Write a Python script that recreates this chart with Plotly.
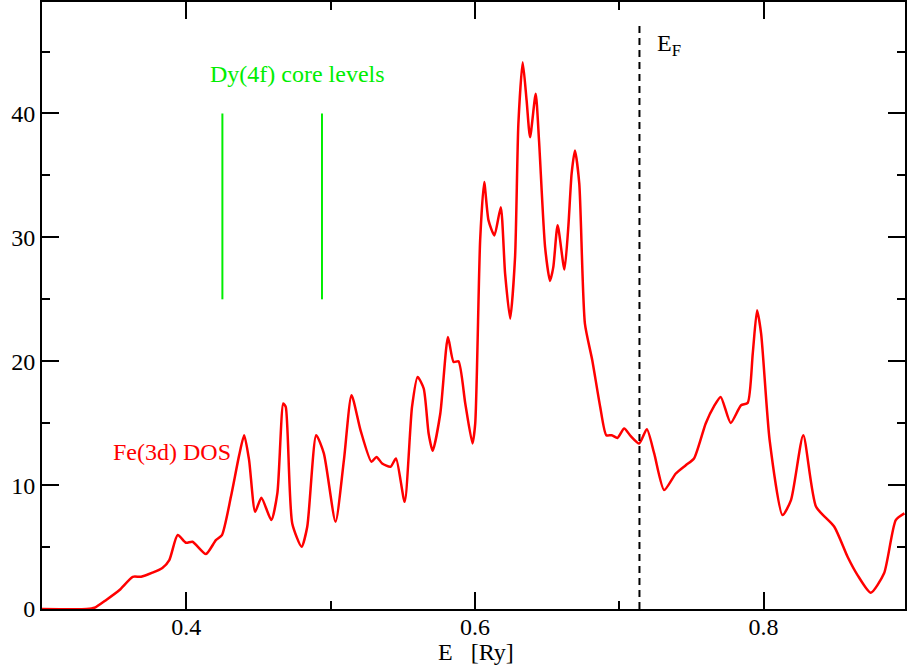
import plotly.graph_objects as go

energy = [0.300, 0.3309, 0.3364, 0.3445, 0.3537, 0.3629, 0.3687, 0.3765, 0.3834, 0.3882,
          0.3940, 0.3998, 0.4043, 0.4136, 0.4205, 0.4247, 0.4309, 0.4366, 0.4401, 0.4435,
          0.4477, 0.4520, 0.4589, 0.4631, 0.4672, 0.4689, 0.4734, 0.4799, 0.4838, 0.4900,
          0.4953, 0.5034, 0.5092, 0.5145, 0.5207, 0.5283, 0.5318, 0.5357, 0.5415, 0.5453,
          0.5513, 0.5564, 0.5603, 0.5645, 0.5679, 0.5707, 0.5760, 0.5813, 0.5852, 0.5886,
          0.5933, 0.5983, 0.6002, 0.6036, 0.6064, 0.6094, 0.6135, 0.6179, 0.6209, 0.6244,
          0.6278, 0.6301, 0.6331, 0.6358, 0.6382, 0.6421, 0.6444, 0.6486, 0.6520, 0.6543,
          0.6573, 0.6620, 0.6647, 0.6670, 0.6693, 0.6723, 0.6762, 0.6813, 0.6868, 0.6910,
          0.6948, 0.6988, 0.7034, 0.7080, 0.7138, 0.7191, 0.7242, 0.7311, 0.7392, 0.7461,
          0.7518, 0.7599, 0.7657, 0.7703, 0.7772, 0.7844, 0.7890, 0.7925, 0.7955, 0.7983,
          0.8042, 0.8131, 0.8190, 0.8275, 0.8364, 0.8490, 0.8582, 0.8651, 0.8743, 0.8835,
          0.8916, 0.8976]
dos = [0.0, 0.0, 0.1, 0.73, 1.53, 2.60, 2.60, 2.93, 3.31, 3.95,
       5.97, 5.35, 5.43, 4.44, 5.56, 5.97, 9.06, 12.4, 14.03, 12.02,
       7.85, 8.98, 7.18, 9.35, 16.59, 16.31, 6.91, 5.02, 6.64, 14.03,
       12.56, 7.04, 12.02, 17.26, 14.44, 11.88, 12.28, 11.75, 11.48, 12.15,
       8.65, 16.31, 18.73, 17.80, 14.17, 12.77, 15.78, 21.96, 19.94, 20.0,
       16.59, 13.36, 14.98, 29.76, 34.46, 31.37, 30.16, 32.44, 27.07, 23.44,
       28.41, 39.17, 44.14, 41.05, 38.09, 41.59, 37.82, 29.22, 26.48, 27.60,
       30.97, 27.40, 30.83, 35.14, 37.02, 34.33, 23.04, 20.08, 16.31, 14.03,
       14.03, 13.81, 14.57, 13.95, 13.36, 14.52, 12.56, 9.60, 10.94, 11.61,
       12.15, 14.98, 16.37, 17.12, 15.02, 16.45, 16.64, 20.62, 24.11, 22.23,
       13.63, 7.58, 8.79, 14.03, 8.25, 6.64, 4.22, 2.74, 1.31, 2.88,
       7.18, 7.72]

core_levels = [0.425, 0.494]
core_range = [25, 40]
fermi_energy = 0.714
fermi_range = [0, 47.1]

x_ticks = [0.4, 0.6, 0.8]
x_tick_labels = ["0.4", "0.6", "0.8"]
y_ticks = [0, 10, 20, 30, 40]
y_tick_labels = ["0", "10", "20", "30", "40"]

FONT = "Liberation Serif, Times New Roman, serif"
FS = 24

fig = go.Figure()

fig.add_trace(go.Scatter(
    x=energy, y=dos, mode="lines",
    line=dict(color="#ff0000", width=2.5, shape="spline", smoothing=0.6),
    showlegend=False, hoverinfo="skip"))

for cl in core_levels:
    fig.add_trace(go.Scatter(
        x=[cl, cl], y=core_range, mode="lines",
        line=dict(color="#00ee00", width=2),
        showlegend=False, hoverinfo="skip"))

fig.add_trace(go.Scatter(
    x=[fermi_energy, fermi_energy], y=fermi_range, mode="lines",
    line=dict(color="black", width=2, dash="7px,5px"),
    showlegend=False, hoverinfo="skip"))

fig.add_annotation(x=0.4152, y=43.2, text="Dy(4f) core levels", showarrow=False,
                   xanchor="left", yanchor="middle",
                   font=dict(family=FONT, size=FS, color="#00ee00"))
fig.add_annotation(x=0.3475, y=12.66, text="Fe(3d) DOS", showarrow=False,
                   xanchor="left", yanchor="middle",
                   font=dict(family=FONT, size=FS, color="#ff0000"))
fig.add_annotation(x=0.7248, y=45.5, text="E<sub>F</sub>", showarrow=False,
                   xanchor="left", yanchor="middle",
                   font=dict(family=FONT, size=FS, color="black"))
fig.add_annotation(x=0.503, y=-0.0715, xref="paper", yref="paper",
                   text="E   [Ry]", showarrow=False,
                   xanchor="center", yanchor="middle",
                   font=dict(family=FONT, size=FS, color="black"))

fig.update_layout(
    width=907, height=672,
    margin=dict(l=42, r=0, t=1, b=63),
    paper_bgcolor="white", plot_bgcolor="white",
    font=dict(family=FONT, size=FS, color="black"),
)

fig.update_xaxes(
    range=[0.3, 0.898], showgrid=False, zeroline=False,
    showline=True, linecolor="black", linewidth=2, mirror="ticks",
    tickmode="array", tickvals=x_ticks, ticktext=x_tick_labels,
    ticks="inside", ticklen=17, tickwidth=2, tickcolor="black",
    ticklabelstandoff=-5,
    minor=dict(tickvals=[0.3, 0.5, 0.7, 0.9], ticks="inside", ticklen=8, tickwidth=2, tickcolor="black"),
    tickfont=dict(family=FONT, size=FS),
)
fig.update_yaxes(
    range=[0, 49], showgrid=False, zeroline=False,
    showline=True, linecolor="black", linewidth=2, mirror="ticks",
    tickmode="array", tickvals=y_ticks, ticktext=y_tick_labels,
    ticks="inside", ticklen=17, tickwidth=2, tickcolor="black",
    minor=dict(tickvals=[5, 15, 25, 35, 45], ticks="inside", ticklen=8, tickwidth=2, tickcolor="black"),
    tickfont=dict(family=FONT, size=FS),
)

fig.write_html("out.html", config={"displayModeBar": False},
               post_script="document.body.style.margin='0';document.body.style.overflow='hidden';")
